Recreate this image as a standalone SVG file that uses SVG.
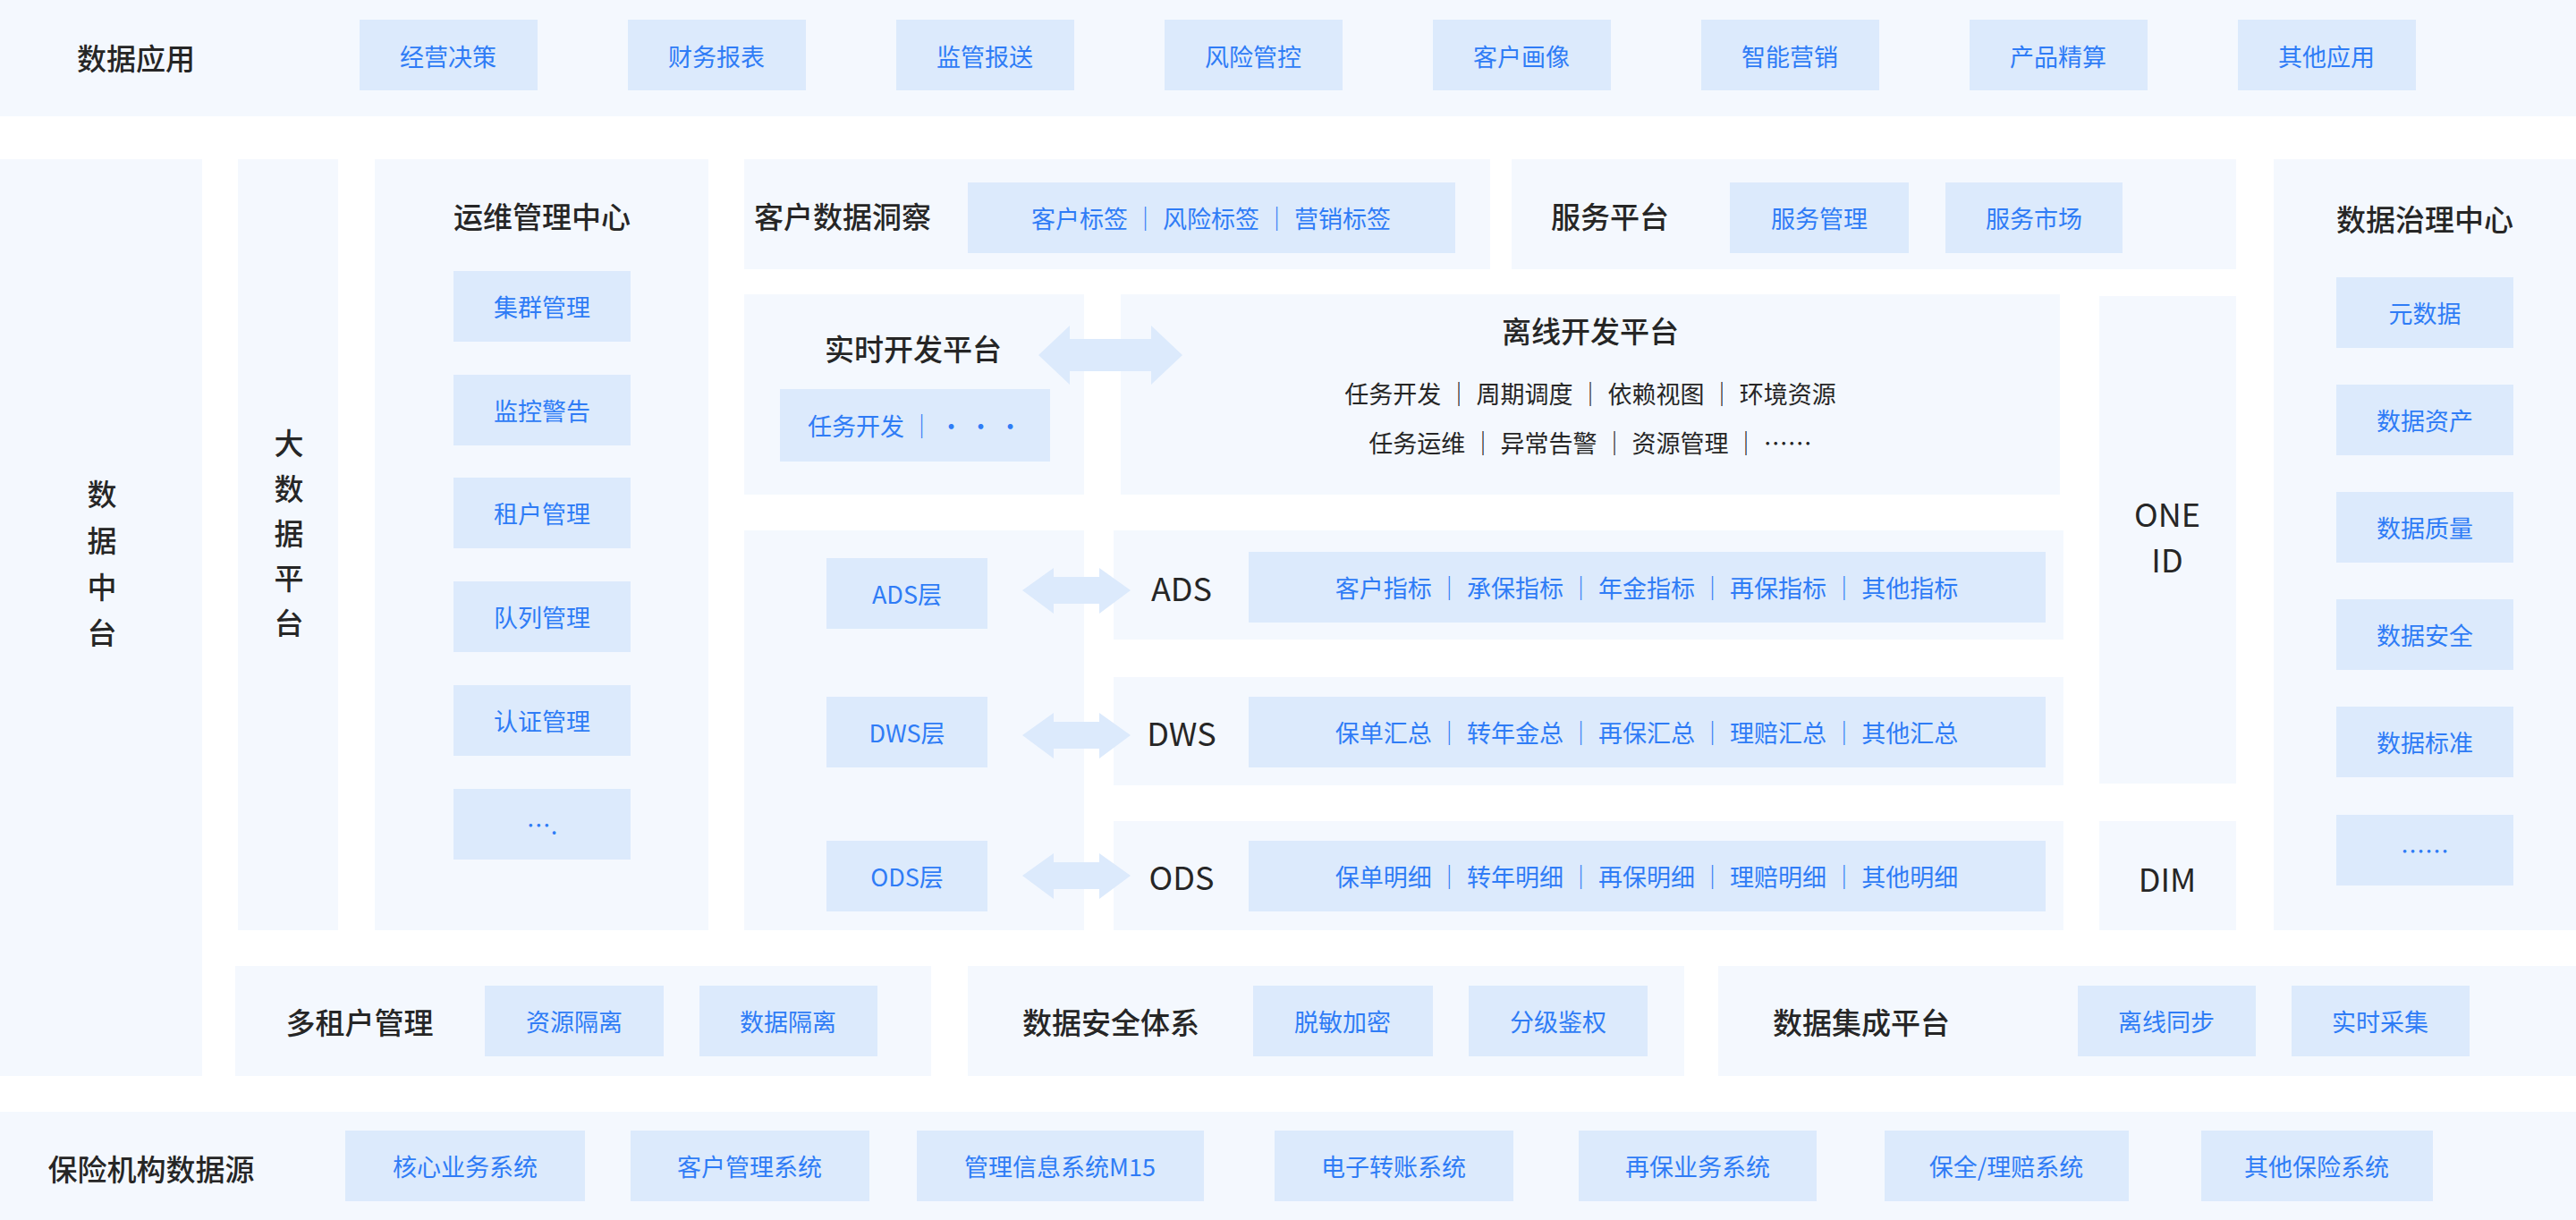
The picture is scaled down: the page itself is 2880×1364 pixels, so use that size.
<svg xmlns="http://www.w3.org/2000/svg" width="2880" height="1364" viewBox="0 0 2880 1364">
<defs><style>
text{font-family:"Noto Sans CJK SC","Liberation Sans",sans-serif;text-anchor:middle;dominant-baseline:central}
.p{fill:#f4f8fe}.b{fill:#dceafc}.a{fill:#dceafc}
.t{font-size:33px;fill:#262626;font-weight:500}
.s{font-size:27px;fill:#2f7cf6}
.l{font-size:36px;fill:#262626}
</style></defs>
<rect width="2880" height="1364" fill="#fff"/>
<g id="app"><rect class="p" x="0" y="0" width="2880" height="130"/><text class="t" x="152" y="64">数据应用</text>
<rect class="b" x="402" y="22" width="199" height="79"/><text class="s" x="501" y="62">经营决策</text>
<rect class="b" x="702" y="22" width="199" height="79"/><text class="s" x="801" y="62">财务报表</text>
<rect class="b" x="1002" y="22" width="199" height="79"/><text class="s" x="1101" y="62">监管报送</text>
<rect class="b" x="1302" y="22" width="199" height="79"/><text class="s" x="1401" y="62">风险管控</text>
<rect class="b" x="1602" y="22" width="199" height="79"/><text class="s" x="1701" y="62">客户画像</text>
<rect class="b" x="1902" y="22" width="199" height="79"/><text class="s" x="2001" y="62">智能营销</text>
<rect class="b" x="2202" y="22" width="199" height="79"/><text class="s" x="2301" y="62">产品精算</text>
<rect class="b" x="2502" y="22" width="199" height="79"/><text class="s" x="2601" y="62">其他应用</text></g>
<g id="zt"><rect class="p" x="0" y="178" width="226" height="1025"/>
<text class="t" x="114" y="551">数</text><text class="t" x="114" y="603">据</text><text class="t" x="114" y="655">中</text><text class="t" x="114" y="706">台</text></g>
<g id="bd"><rect class="p" x="266" y="178" width="112" height="862"/>
<text class="t" x="323" y="494">大</text><text class="t" x="323" y="545">数</text><text class="t" x="323" y="595">据</text><text class="t" x="323" y="645">平</text><text class="t" x="323" y="695">台</text></g>
<g id="ops"><rect class="p" x="419" y="178" width="373" height="862"/><text class="t" x="606" y="241">运维管理中心</text>
<rect class="b" x="507" y="303" width="198" height="79"/><text class="s" x="606" y="342">集群管理</text>
<rect class="b" x="507" y="419" width="198" height="79"/><text class="s" x="606" y="458">监控警告</text>
<rect class="b" x="507" y="534" width="198" height="79"/><text class="s" x="606" y="573">租户管理</text>
<rect class="b" x="507" y="650" width="198" height="79"/><text class="s" x="606" y="689">队列管理</text>
<rect class="b" x="507" y="766" width="198" height="79"/><text class="s" x="606" y="805">认证管理</text>
<rect class="b" x="507" y="882" width="198" height="79"/><text class="s" x="606" y="921">….</text></g>
<g id="cust"><rect class="p" x="832" y="178" width="834" height="123"/><text class="t" x="942" y="241">客户数据洞察</text>
<rect class="b" x="1082" y="204" width="545" height="79"/><text class="s" x="1354" y="243">客户标签 ｜ 风险标签 ｜ 营销标签</text></g>
<g id="svc"><rect class="p" x="1690" y="178" width="810" height="123"/><text class="t" x="1800" y="241">服务平台</text>
<rect class="b" x="1934" y="204" width="200" height="79"/><text class="s" x="2034" y="243">服务管理</text>
<rect class="b" x="2175" y="204" width="198" height="79"/><text class="s" x="2274" y="243">服务市场</text></g>
<g id="gov"><rect class="p" x="2542" y="178" width="338" height="862"/><text class="t" x="2711" y="244">数据治理中心</text>
<rect class="b" x="2612" y="310" width="198" height="79"/><text class="s" x="2711" y="349">元数据</text>
<rect class="b" x="2612" y="430" width="198" height="79"/><text class="s" x="2711" y="469">数据资产</text>
<rect class="b" x="2612" y="550" width="198" height="79"/><text class="s" x="2711" y="589">数据质量</text>
<rect class="b" x="2612" y="670" width="198" height="79"/><text class="s" x="2711" y="709">数据安全</text>
<rect class="b" x="2612" y="790" width="198" height="79"/><text class="s" x="2711" y="829">数据标准</text>
<rect class="b" x="2612" y="911" width="198" height="79"/><text class="s" x="2711" y="950">……</text></g>
<g id="rt"><rect class="p" x="832" y="329" width="380" height="224"/><text class="t" x="1021" y="389">实时开发平台</text>
<rect class="b" x="872" y="435" width="302" height="81"/><text class="s" x="1023" y="475">任务开发 ｜ · · ·</text></g>
<g id="off"><rect class="p" x="1253" y="329" width="1050" height="224"/><text class="t" x="1778" y="369">离线开发平台</text>
<text class="s" x="1778" y="439" style="fill:#262626">任务开发 ｜ 周期调度 ｜ 依赖视图 ｜ 环境资源</text>
<text class="s" x="1778" y="494" style="fill:#262626">任务运维 ｜ 异常告警 ｜ 资源管理 ｜ ……</text></g>
<g id="oneid"><rect class="p" x="2347" y="331" width="153" height="545"/><text class="l" x="2423" y="573">ONE</text><text class="l" x="2423" y="624">ID</text></g>
<g id="dim"><rect class="p" x="2347" y="918" width="153" height="122"/><text class="l" x="2423" y="981">DIM</text></g>
<g id="layers"><rect class="p" x="832" y="593" width="380" height="447"/>
<rect class="b" x="924" y="624" width="180" height="79"/><text class="s" x="1014" y="663">ADS层</text>
<rect class="b" x="924" y="779" width="180" height="79"/><text class="s" x="1014" y="818">DWS层</text>
<rect class="b" x="924" y="940" width="180" height="79"/><text class="s" x="1014" y="979">ODS层</text></g>
<g id="ads"><rect class="p" x="1245" y="593" width="1062" height="122"/><text class="l" x="1321" y="656">ADS</text>
<rect class="b" x="1396" y="617" width="891" height="79"/><text class="s" x="1841" y="656">客户指标 ｜ 承保指标 ｜ 年金指标 ｜ 再保指标 ｜ 其他指标</text></g>
<g id="dws"><rect class="p" x="1245" y="757" width="1062" height="121"/><text class="l" x="1321" y="818">DWS</text>
<rect class="b" x="1396" y="779" width="891" height="79"/><text class="s" x="1841" y="818">保单汇总 ｜ 转年金总 ｜ 再保汇总 ｜ 理赔汇总 ｜ 其他汇总</text></g>
<g id="ods"><rect class="p" x="1245" y="918" width="1062" height="122"/><text class="l" x="1321" y="979">ODS</text>
<rect class="b" x="1396" y="940" width="891" height="79"/><text class="s" x="1841" y="979">保单明细 ｜ 转年明细 ｜ 再保明细 ｜ 理赔明细 ｜ 其他明细</text></g>
<g id="tenant"><rect class="p" x="263" y="1080" width="778" height="123"/><text class="t" x="402" y="1142">多租户管理</text>
<rect class="b" x="542" y="1102" width="200" height="79"/><text class="s" x="642" y="1141">资源隔离</text>
<rect class="b" x="782" y="1102" width="199" height="79"/><text class="s" x="881" y="1141">数据隔离</text></g>
<g id="sec"><rect class="p" x="1082" y="1080" width="801" height="123"/><text class="t" x="1242" y="1142">数据安全体系</text>
<rect class="b" x="1401" y="1102" width="201" height="79"/><text class="s" x="1501" y="1141">脱敏加密</text>
<rect class="b" x="1642" y="1102" width="200" height="79"/><text class="s" x="1742" y="1141">分级鉴权</text></g>
<g id="integ"><rect class="p" x="1921" y="1080" width="959" height="123"/><text class="t" x="2081" y="1142">数据集成平台</text>
<rect class="b" x="2323" y="1102" width="199" height="79"/><text class="s" x="2422" y="1141">离线同步</text>
<rect class="b" x="2562" y="1102" width="199" height="79"/><text class="s" x="2661" y="1141">实时采集</text></g>
<g id="src"><rect class="p" x="0" y="1243" width="2880" height="121"/><text class="t" x="169" y="1306">保险机构数据源</text>
<rect class="b" x="386" y="1264" width="268" height="79"/><text class="s" x="520" y="1303">核心业务系统</text>
<rect class="b" x="705" y="1264" width="267" height="79"/><text class="s" x="838" y="1303">客户管理系统</text>
<rect class="b" x="1025" y="1264" width="321" height="79"/><text class="s" x="1185" y="1303">管理信息系统M15</text>
<rect class="b" x="1425" y="1264" width="267" height="79"/><text class="s" x="1558" y="1303">电子转账系统</text>
<rect class="b" x="1765" y="1264" width="266" height="79"/><text class="s" x="1898" y="1303">再保业务系统</text>
<rect class="b" x="2107" y="1264" width="273" height="79"/><text class="s" x="2243" y="1303">保全/理赔系统</text>
<rect class="b" x="2461" y="1264" width="259" height="79"/><text class="s" x="2590" y="1303">其他保险系统</text></g>
<g id="connectors">
<polygon class="a" points="1161,397 1196,364 1196,379 1287,379 1287,364 1322,397 1287,430 1287,415 1196,415 1196,430"/>
<polygon class="a" points="1143,660 1178,635 1178,645 1229,645 1229,635 1264,660 1229,686 1229,675 1178,675 1178,686"/>
<polygon class="a" points="1143,822 1178,797 1178,807 1229,807 1229,797 1264,822 1229,848 1229,837 1178,837 1178,848"/>
<polygon class="a" points="1143,979 1178,954 1178,964 1229,964 1229,954 1264,979 1229,1005 1229,994 1178,994 1178,1005"/>
</g>
</svg>
